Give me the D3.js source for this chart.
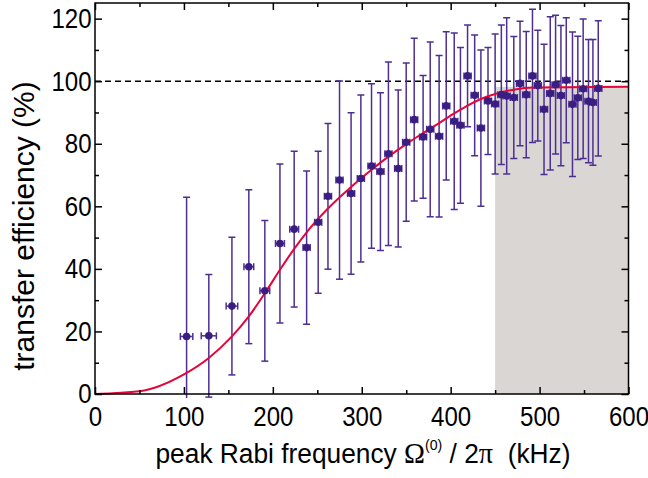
<!DOCTYPE html>
<html>
<head>
<meta charset="utf-8">
<script src="https://cdn.jsdelivr.net/npm/d3@7"></script>
<style>
  body { margin: 0; background: #fff; }
  text { font-family: "Liberation Sans", Arial, sans-serif; fill: #000; }
</style>
</head>
<body>
<div id="chart"></div>
<script>
// measured points (kHz, %), errors are symmetric
const freq = [103, 128, 154, 173, 191, 208, 224, 238, 251, 262,
              275, 288, 299, 311, 321, 330, 341, 350, 359, 369,
              377, 387, 395, 404, 411, 419, 427, 434, 442, 450,
              457, 463, 471, 478, 485, 492, 498, 505, 512, 518,
              524, 530, 537, 543, 549, 555, 560, 566];
const freqErr = [7, 8.5, 6.5, 5.5, 5.5, 5, 5, 4, 4, 4,
                 4, 4, 4, 4, 4, 4, 4, 4, 4, 4,
                 4, 4, 4, 4, 4, 4, 4, 4, 4, 4,
                 4, 4, 4, 4, 4, 4, 4, 4, 4, 4,
                 4, 4, 4, 4, 4, 4, 4, 4];
const eff = [18.4, 18.6, 28.1, 40.7, 33.0, 48.1, 52.7, 46.8, 54.9, 63.2,
             68.4, 64.1, 68.9, 72.9, 71.1, 76.8, 72.1, 80.5, 87.7, 82.2,
             84.6, 82.4, 92.1, 87.2, 85.9, 101.7, 95.5, 85.0, 93.7, 92.7,
             95.7, 95.3, 94.8, 99.3, 95.7, 101.7, 98.6, 91.0, 96.1, 98.9,
             95.4, 100.3, 92.6, 94.7, 97.6, 93.6, 93.2, 97.7];
const effErr = [44.5, 19.6, 22, 24.6, 22.5, 25.4, 24.9, 24.5, 22.7, 23.3,
                31.7, 25.8, 26.7, 26.3, 25.2, 29.3, 25.1, 25.3, 26, 19.6,
                27.9, 25.8, 23.7, 28.2, 24.9, 16.3, 19.3, 25, 17.1, 22.4,
                22.3, 25, 19.5, 19.9, 20.2, 21.3, 17.7, 20.8, 24.5, 22.2,
                22.4, 20, 23.1, 19.7, 22.3, 19.7, 20.1, 21.6];

// fit curve
const fitX = [0, 50, 101, 128, 154, 173, 191, 208, 224, 238, 262, 288, 299,
              311, 330, 350, 369, 387, 404, 419, 434, 450, 471, 492, 600];
const fitY = [0, 0.85, 6.4, 11.5, 18.4, 24.8, 32.2, 39.7, 46.4, 51.7, 59.3, 66.2, 68.9,
              71.7, 75.9, 79.9, 83.4, 86.6, 89.7, 92.2, 94.3, 95.9, 97.3, 98, 98.2];

const shadeFrom = 450, shadeTo = 600, shadeTop = 98.2;
const refLevel = 100;

const xTicks = [0, 100, 200, 300, 400, 500, 600];
const xMinor = [50, 150, 250, 350, 450, 550];
const yTicks = [0, 20, 40, 60, 80, 100, 120];
const yMinor = [10, 30, 50, 70, 90, 110];

const width = 648, height = 478;
const mLeft = 95, mRight = 628.5, mTop = 3, mBottom = 394;

const svg = d3.select("#chart").append("svg")
  .attr("width", width)
  .attr("height", height);

const x = d3.scaleLinear().domain([0, 600]).range([mLeft, mRight]);
const y = d3.scaleLinear().domain([0, 125]).range([mBottom, mTop]);

svg.append("defs").append("clipPath").attr("id", "clip")
  .append("rect")
  .attr("x", mLeft).attr("y", mTop)
  .attr("width", mRight - mLeft).attr("height", mBottom - mTop + 4);

// grey band
svg.append("rect")
  .attr("x", x(shadeFrom))
  .attr("y", y(shadeTop))
  .attr("width", x(shadeTo) - x(shadeFrom))
  .attr("height", y(0) - y(shadeTop))
  .attr("fill", "#d9d6d3");

// dashed 100% line
svg.append("line")
  .attr("x1", x(0)).attr("x2", x(600))
  .attr("y1", y(refLevel)).attr("y2", y(refLevel))
  .attr("stroke", "#000")
  .attr("stroke-width", 1.5)
  .attr("stroke-dasharray", "6,4");

const pts = freq.map((f, i) => ({ f, fe: freqErr[i], e: eff[i], ee: effErr[i] }));
const barColor = "#4d2e92";

const bars = svg.append("g").attr("clip-path", "url(#clip)")
  .attr("stroke", barColor)
  .attr("stroke-width", 1.5);

// vertical error bars
bars.selectAll(".vbar").data(pts).join("line")
  .attr("x1", d => x(d.f)).attr("x2", d => x(d.f))
  .attr("y1", d => y(d.e + d.ee)).attr("y2", d => y(d.e - d.ee));

// caps
bars.selectAll(".capt").data(pts).join("line")
  .attr("x1", d => x(d.f) - 3.5).attr("x2", d => x(d.f) + 3.5)
  .attr("y1", d => y(d.e + d.ee)).attr("y2", d => y(d.e + d.ee));
bars.selectAll(".capb").data(pts).join("line")
  .attr("x1", d => x(d.f) - 3.5).attr("x2", d => x(d.f) + 3.5)
  .attr("y1", d => y(d.e - d.ee)).attr("y2", d => y(d.e - d.ee));

// horizontal error bars
bars.selectAll(".hbar").data(pts).join("line")
  .attr("x1", d => x(d.f - d.fe)).attr("x2", d => x(d.f + d.fe))
  .attr("y1", d => y(d.e)).attr("y2", d => y(d.e));
bars.selectAll(".hcapl").data(pts).join("line")
  .attr("x1", d => x(d.f - d.fe)).attr("x2", d => x(d.f - d.fe))
  .attr("y1", d => y(d.e) - 3.5).attr("y2", d => y(d.e) + 3.5);
bars.selectAll(".hcapr").data(pts).join("line")
  .attr("x1", d => x(d.f + d.fe)).attr("x2", d => x(d.f + d.fe))
  .attr("y1", d => y(d.e) - 3.5).attr("y2", d => y(d.e) + 3.5);

// fit curve
const line = d3.line()
  .x((d, i) => x(fitX[i]))
  .y(d => y(d))
  .curve(d3.curveMonotoneX);

svg.append("path")
  .datum(fitY)
  .attr("d", line)
  .attr("fill", "none")
  .attr("stroke", "#e3053a")
  .attr("stroke-width", 2);

// markers
svg.append("g").selectAll("circle").data(pts).join("circle")
  .attr("cx", d => x(d.f))
  .attr("cy", d => y(d.e))
  .attr("r", 3.8)
  .attr("fill", "#3a1d80");

// axes, ticks pointing inward
function styleAxis(g) {
  g.select(".domain").remove();
  g.selectAll("line").attr("stroke", "#000").attr("stroke-width", 1.5);
  g.selectAll("text")
    .attr("font-size", 28)
    .attr("font-family", "'Liberation Sans', Arial, sans-serif")
    .attr("fill", "#000");
}

svg.append("g")
  .attr("transform", `translate(0,${mBottom})`)
  .call(d3.axisBottom(x).tickValues(xTicks).tickSize(-7).tickPadding(12).tickFormat(d3.format("d")))
  .call(styleAxis)
  .call(g => g.selectAll("text").attr("transform", "scale(0.86,1)"));
svg.append("g")
  .attr("transform", `translate(0,${mBottom})`)
  .call(d3.axisBottom(x).tickValues(xMinor).tickSize(-4).tickFormat(""))
  .call(styleAxis);
svg.append("g")
  .attr("transform", `translate(0,${mTop})`)
  .call(d3.axisTop(x).tickValues(xTicks).tickSize(-7).tickFormat(""))
  .call(styleAxis);
svg.append("g")
  .attr("transform", `translate(0,${mTop})`)
  .call(d3.axisTop(x).tickValues(xMinor).tickSize(-4).tickFormat(""))
  .call(styleAxis);

svg.append("g")
  .attr("transform", `translate(${mLeft},0)`)
  .call(d3.axisLeft(y).tickValues(yTicks).tickSize(-7).tickPadding(4).tickFormat(d3.format("d")))
  .call(styleAxis)
  .call(g => g.selectAll("text").attr("transform", "scale(0.86,1)"));
svg.append("g")
  .attr("transform", `translate(${mLeft},0)`)
  .call(d3.axisLeft(y).tickValues(yMinor).tickSize(-4).tickFormat(""))
  .call(styleAxis);
svg.append("g")
  .attr("transform", `translate(${mRight},0)`)
  .call(d3.axisRight(y).tickValues(yTicks).tickSize(-7).tickFormat(""))
  .call(styleAxis);
svg.append("g")
  .attr("transform", `translate(${mRight},0)`)
  .call(d3.axisRight(y).tickValues(yMinor).tickSize(-4).tickFormat(""))
  .call(styleAxis);

// frame
svg.append("rect")
  .attr("x", mLeft).attr("y", mTop)
  .attr("width", mRight - mLeft).attr("height", mBottom - mTop)
  .attr("fill", "none")
  .attr("stroke", "#000")
  .attr("stroke-width", 1.5);

// axis titles
const xt = svg.append("text")
  .attr("text-anchor", "middle")
  .attr("font-size", 28)
  .attr("transform", `translate(363,463) scale(0.94,1)`);
xt.append("tspan").text("peak Rabi frequency ");
xt.append("tspan").attr("font-family", "'Liberation Serif', 'Times New Roman', serif").attr("font-size", 30).text("\u03A9");
xt.append("tspan").attr("font-size", 15).attr("dy", -13).text("(0)");
xt.append("tspan").attr("dy", 13).text(" / 2");
xt.append("tspan").attr("font-family", "'Liberation Serif', 'Times New Roman', serif").attr("font-size", 30).text("\u03C0");
xt.append("tspan").text("\u00A0 (kHz)");

svg.append("text")
  .attr("text-anchor", "middle")
  .attr("font-size", 30)
  .attr("transform", `translate(34,226) rotate(-90)`)
  .text("transfer efficiency (%)");
</script>
</body>
</html>
